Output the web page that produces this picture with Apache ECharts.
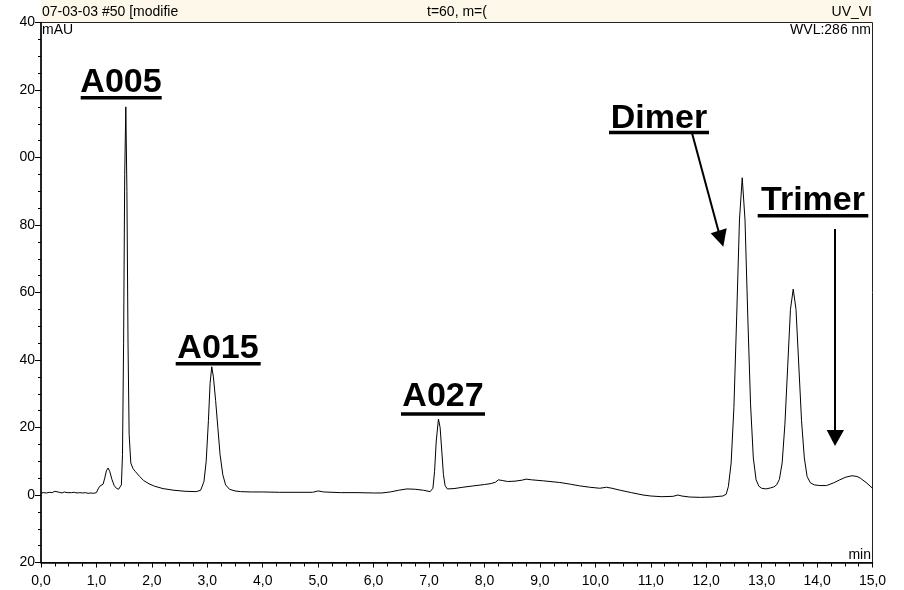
<!DOCTYPE html>
<html lang="en">
<head>
    <meta charset="UTF-8">
    <script src="https://cdn.jsdelivr.net/npm/echarts@6/dist/echarts.min.js"></script>
    <title>UV_VIS chromatogram</title>
    <style>
        html, body { margin: 0; padding: 0; background: #fff; }
    </style>
</head>
<body>
    <div id="chromatogram" style="width: 904px;height:590px;"></div>
</body>
<script type="text/javascript">
    // retention time (min), absorbance (mAU)
    var leadIn = [[0.00,0.6],[0.05,0.7],[0.10,0.6],[0.15,0.8],[0.20,0.7],[0.25,1.1],[0.28,0.7],[0.33,0.8],[0.38,0.6],[0.42,0.9],
        [0.47,0.7],[0.50,1.0],[0.55,0.7],[0.60,0.8],[0.65,0.6],[0.70,0.7],[0.75,0.6],[0.80,0.7],[0.85,0.5],[0.90,0.6],
        [0.95,0.5],[1.00,0.7],[1.03,1.8],[1.06,2.6],[1.09,2.5],[1.12,3.2],[1.15,5.0],[1.18,7.2],[1.21,8.0],[1.24,7.0],
        [1.28,4.6],[1.32,2.8],[1.36,2.0],[1.40,1.7],[1.43,1.8]];
    var peakA005 = [[1.45,3.0],[1.47,12],[1.49,45],[1.51,95],[1.53,115],[1.55,90],[1.57,45],[1.59,18],[1.62,9.5],[1.66,7.8],
        [1.70,7.0],[1.78,5.5],[1.85,4.3],[1.95,3.3],[2.05,2.6],[2.20,1.9],[2.40,1.4],[2.60,1.1],[2.80,1.0]];
    var peakA015 = [[2.88,1.4],[2.94,4],[2.98,10],[3.02,22],[3.05,33],[3.08,38],[3.11,35],[3.15,28],[3.19,20],[3.23,12],
        [3.28,6],[3.33,3],[3.40,1.7],[3.50,1.2]];
    var midBaseline = [[3.60,1.0],[3.80,0.9],[4.00,0.9],[4.30,0.8],[4.60,0.8],[4.90,0.8],[5.00,1.2],[5.10,0.9],[5.40,0.7],
        [5.70,0.7],[6.00,0.6],[6.15,0.6],[6.30,0.9],[6.45,1.4],[6.60,1.8],[6.75,1.7],[6.90,1.4],[7.02,1.0]];
    var peakA027 = [[7.07,2],[7.10,7],[7.13,16],[7.17,22.5],[7.20,20],[7.23,13],[7.26,6],[7.29,2.8],[7.33,1.8]];
    var lateBaseline = [[7.45,1.9],[7.61,2.3],[7.80,2.7],[8.00,3.1],[8.12,3.4],[8.20,3.8],[8.25,4.5],[8.32,4.3],[8.42,4.0],
        [8.55,4.1],[8.68,4.4],[8.75,4.7],[8.85,4.5],[9.06,4.2],[9.36,3.7],[9.55,3.2],[9.72,2.7],[9.90,2.3],[10.08,2.0],
        [10.20,2.3],[10.30,2.0],[10.45,1.4],[10.65,0.7],[10.86,0.0],[11.00,-0.3],[11.20,-0.5],[11.40,-0.4],[11.49,0.0],
        [11.56,-0.3],[11.70,-0.6],[11.90,-0.7],[12.10,-0.6],[12.30,-0.3]];
    var peakDimer = [[12.36,0.2],[12.40,2.5],[12.45,9.5],[12.50,26],[12.55,53],[12.60,81.5],[12.65,94],[12.70,81.5],
        [12.75,53],[12.80,27],[12.85,11],[12.90,4.5],[12.95,2.6],[13.00,2.0],[13.08,1.8],[13.16,2.1],[13.22,2.4]];
    var peakTrimer = [[13.27,3.0],[13.32,4.6],[13.37,9.5],[13.42,21],[13.47,38],[13.52,55],[13.57,61],[13.62,55],
        [13.67,38.5],[13.72,22],[13.77,11],[13.82,5.5],[13.88,3.6],[13.95,3.0],[14.05,2.8]];
    var tail = [[14.17,2.8],[14.30,3.6],[14.41,4.5],[14.52,5.3],[14.63,5.7],[14.72,5.5],[14.78,5.0],[14.90,3.5],[15.00,2.0]];

    // tick labels as printed (the y labels are cut at the left edge)
    var xTickLabels = ['0,0','1,0','2,0','3,0','4,0','5,0','6,0','7,0','8,0','9,0','10,0','11,0','12,0','13,0','14,0','15,0'];
    var yTickLabels = ['20','0','20','40','60','80','00','20','40'];

    var trace = [].concat(leadIn, peakA005, peakA015, midBaseline, peakA027, lateBaseline, peakDimer, peakTrimer, tail);

    var FONT = '"Liberation Sans", Arial, sans-serif';
    var SMALL = '14px ' + FONT;
    var chart = echarts.init(document.getElementById('chromatogram'));

    // underlined bold peak names
    function peakName(text, cx, cy, x1, x2, uy) {
        return [{
            type: 'text', z: 20,
            style: {text: text, x: cx, y: cy, align: 'center', verticalAlign: 'middle',
                font: 'bold 34px ' + FONT, fill: '#000'}
        }, {
            type: 'rect', z: 20,
            shape: {x: x1, y: uy, width: x2 - x1, height: 3.5},
            style: {fill: '#000'}
        }];
    }

    var graphics = [
        {type: 'rect', z: 0, shape: {x: 41, y: 0, width: 831, height: 22}, style: {fill: '#fdf8ea'}},
        {type: 'text', z: 20, style: {text: '07-03-03 #50 [modifie', x: 42, y: 19, verticalAlign: 'bottom', font: SMALL, fill: '#000'}},
        {type: 'text', z: 20, style: {text: 't=60, m=(', x: 427, y: 19, verticalAlign: 'bottom', font: SMALL, fill: '#000'}},
        {type: 'text', z: 20, style: {text: 'UV_VI', x: 872, y: 19, align: 'right', verticalAlign: 'bottom', font: SMALL, fill: '#000'}},
        {type: 'text', z: 20, style: {text: 'mAU', x: 42, y: 37, verticalAlign: 'bottom', font: SMALL, fill: '#000'}},
        {type: 'text', z: 20, style: {text: 'WVL:286 nm', x: 871, y: 37, align: 'right', verticalAlign: 'bottom', font: SMALL, fill: '#000'}},
        {type: 'text', z: 20, style: {text: 'min', x: 871, y: 562, align: 'right', verticalAlign: 'bottom', font: SMALL, fill: '#000'}},
        // arrows
        {type: 'line', z: 20, shape: {x1: 692, y1: 133, x2: 719, y2: 233}, style: {stroke: '#000', lineWidth: 2}},
        {type: 'polygon', z: 20, shape: {points: [[710.7, 233.3], [726.7, 228.3], [723.3, 246.7]]}, style: {fill: '#000'}},
        {type: 'line', z: 20, shape: {x1: 835, y1: 229, x2: 835, y2: 432}, style: {stroke: '#000', lineWidth: 2}},
        {type: 'polygon', z: 20, shape: {points: [[826.7, 430], [844, 430], [835, 446]]}, style: {fill: '#000'}}
    ].concat(
        peakName('A005', 121, 83, 80.7, 161.7, 96),
        peakName('A015', 218, 349, 175.7, 260.7, 362),
        peakName('A027', 443, 397, 401, 485, 412.3),
        peakName('Dimer', 659, 119, 609, 709, 130.7),
        peakName('Trimer', 813, 201, 757.7, 868.3, 214)
    );

    chart.setOption({
        animation: false,
        backgroundColor: '#fff',
        grid: {
            left: 41, right: 31.5, top: 22.5, bottom: 27.5,
            show: true, borderColor: '#222', borderWidth: 1
        },
        xAxis: {
            type: 'value', min: 0, max: 15, interval: 1,
            axisLine: {onZero: false, lineStyle: {color: '#000', width: 1.5}},
            axisTick: {length: 5, lineStyle: {color: '#000'}},
            minorTick: {show: true, splitNumber: 4, length: 4, lineStyle: {color: '#000'}},
            splitLine: {show: false},
            axisLabel: {
                margin: 12, color: '#000', fontSize: 14, fontFamily: FONT,
                formatter: function (v) { return xTickLabels[Math.round(v)]; }
            }
        },
        yAxis: {
            type: 'value', min: -20, max: 140, interval: 20,
            axisLine: {show: true, onZero: false, lineStyle: {color: '#000', width: 1.5}},
            axisTick: {show: true, length: 6, lineStyle: {color: '#000'}},
            minorTick: {show: true, splitNumber: 4, length: 3, lineStyle: {color: '#000'}},
            splitLine: {show: false},
            axisLabel: {
                margin: 6, color: '#000', fontSize: 14, fontFamily: FONT,
                formatter: function (v) { return yTickLabels[Math.round((v + 20) / 20)]; }
            }
        },
        series: [{
            name: 'UV_VIS',
            type: 'line',
            data: trace,
            showSymbol: false,
            lineStyle: {color: '#000', width: 1},
            z: 5
        }],
        graphic: graphics
    });
</script>
</html>
